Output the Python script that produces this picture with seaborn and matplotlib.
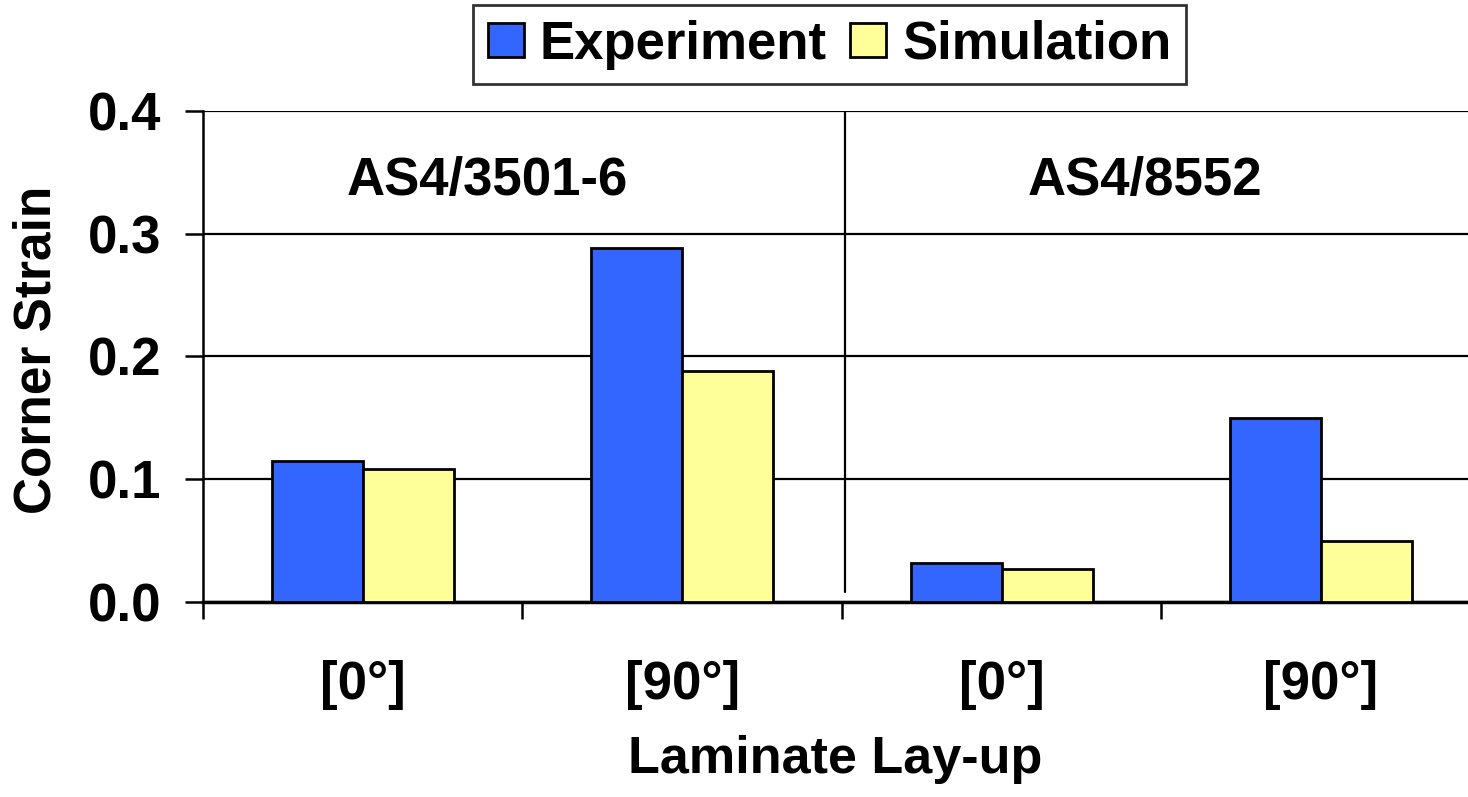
import pandas as pd
import matplotlib.pyplot as plt
import seaborn as sns

# data
groups = ["AS4/3501-6", "AS4/8552"]
layups = ["[0°]", "[90°]", "[0°]", "[90°]"]
positions = ["3501-6 [0°]", "3501-6 [90°]", "8552 [0°]", "8552 [90°]"]
experiment = [0.115, 0.288, 0.032, 0.150]
simulation = [0.108, 0.188, 0.027, 0.050]

df = pd.DataFrame({
    "Position": positions * 2,
    "Series": ["Experiment"] * 4 + ["Simulation"] * 4,
    "Strain": experiment + simulation,
})

sns.set_style("white")
plt.rcParams["font.family"] = ["Liberation Sans", "DejaVu Sans"]
plt.rcParams["font.weight"] = "bold"
plt.rcParams["text.color"] = "black"
plt.rcParams["axes.labelcolor"] = "black"
plt.rcParams["xtick.color"] = "black"
plt.rcParams["ytick.color"] = "black"

fig = plt.figure(figsize=(14.68, 7.97), dpi=100)
ax = fig.add_axes([0.1383, 0.2447, 0.8617, 0.616])

sns.barplot(data=df, x="Position", y="Strain", hue="Series", order=positions,
            palette={"Experiment": "#3366FF", "Simulation": "#FFFF99"},
            edgecolor="black", linewidth=2, width=0.57, saturation=1,
            ax=ax, zorder=3)

ax.set_ylim(0, 0.4)
ax.set_xlim(-0.5, 3.46)
ax.set_yticks([0.0, 0.1, 0.2, 0.3, 0.4])
ax.set_yticklabels([f"{v:.1f}" for v in [0.0, 0.1, 0.2, 0.3, 0.4]])
ax.yaxis.grid(True, color="black", linewidth=1.6, zorder=0)
ax.set_axisbelow(True)

ax.set_xticks(range(4))
ax.set_xticklabels(layups)
ax.set_xticks([-0.5, 0.5, 1.5, 2.5], minor=True)
ax.tick_params(axis="x", which="major", length=0, pad=42, labelsize=38)
ax.tick_params(axis="x", which="minor", length=12, width=1.8,
               direction="out", bottom=True)
ax.tick_params(axis="y", length=13, width=1.8, direction="out",
               left=True, pad=17, labelsize=38)

for side in ["top", "right"]:
    ax.spines[side].set_visible(False)
ax.spines["left"].set_linewidth(1.8)
ax.spines["left"].set_color("black")
ax.spines["bottom"].set_linewidth(2.5)
ax.spines["bottom"].set_color("black")

# separator between materials
ax.axvline(1.51, ymin=0.02, ymax=1.0, color="black", linewidth=1.6, zorder=2)

ax.text(0.39, 0.343, groups[0], ha="center", va="center", fontsize=38,
        fontweight="bold")
ax.text(2.45, 0.343, groups[1], ha="center", va="center", fontsize=38,
        fontweight="bold")

ax.set_xlabel("Laminate Lay-up", fontsize=37.5, fontweight="bold", labelpad=18)
ax.set_ylabel("Corner Strain", fontsize=37, fontweight="bold")
ax.yaxis.set_label_coords(-0.1115, 0.513)

leg = ax.legend(loc="center", ncol=2, frameon=True,
                fontsize=38, handlelength=0.68, handleheight=0.63,
                handletextpad=0.3, columnspacing=0.45, borderpad=0.28,
                fancybox=False)
leg.set_bbox_to_anchor((0.5651, 0.944), transform=fig.transFigure)
leg.get_frame().set_edgecolor("black")
leg.get_frame().set_linewidth(2)

plt.savefig("out.png", dpi=100)
